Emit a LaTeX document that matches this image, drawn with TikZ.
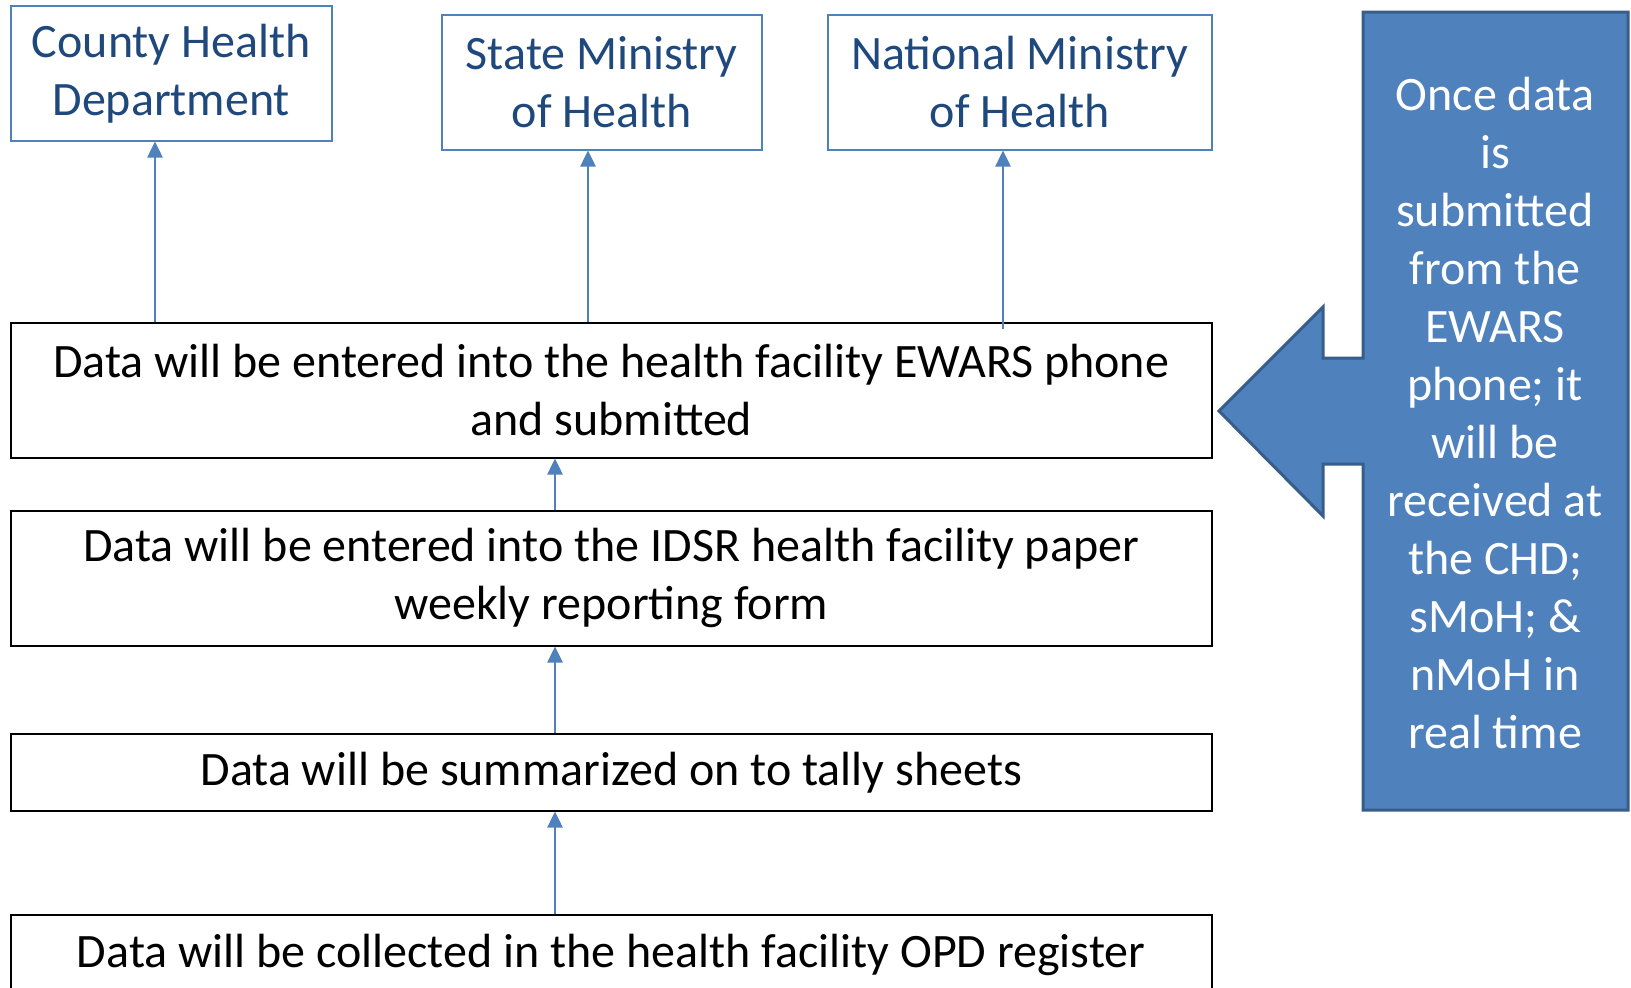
\documentclass[tikz,border=0pt]{standalone}
\usepackage{fontspec}
\setmainfont{Carlito}
\usetikzlibrary{arrows.meta}
\definecolor{accblue}{HTML}{4F81BD}
\definecolor{darkblue}{HTML}{1F497D}
\definecolor{edgeblue}{HTML}{385D8A}
\begin{document}
\begin{tikzpicture}[x=1pt,y=-1pt,
  every node/.style={font=\fontsize{48}{58}\selectfont, inner sep=0pt, align=center},
  flowbox/.style={draw=black, line width=1.5pt, anchor=north west, minimum width=1201pt},
  topbox/.style={draw=accblue, line width=1.5pt, anchor=north west, minimum height=135pt, text=darkblue},
  arr/.style={draw=accblue, line width=2.5pt, -{Triangle[length=16pt,width=15pt]}}]
\clip (0,0) rectangle (1631,988);
\fill[white] (0,0) rectangle (1631,988);
% top boxes
\node[topbox, minimum width=321pt] (chd) at (10,5) {County Health\\Department};
\node[topbox, minimum width=320pt] (smoh) at (441,14) {State Ministry\\of Health};
\node[topbox, minimum width=384pt] (nmoh) at (827,14) {National Ministry\\of Health};
% flow boxes
\node[flowbox, minimum height=135pt] (ewars) at (10,322) {Data will be entered into the health facility EWARS phone\\and submitted};
\node[flowbox, minimum height=135pt] (idsr) at (10,510) {Data will be entered into the IDSR health facility paper\\weekly reporting form};
\node[flowbox, minimum height=77pt] (tally) at (10,733) {Data will be summarized on to tally sheets};
\node[flowbox, minimum height=80pt] (opd) at (10,914) {Data will be collected in the health facility OPD register};
% arrows
\coordinate (c1) at (155,0);
\coordinate (c2) at (588,0);
\coordinate (c3) at (1003,0);
\coordinate (cm) at (555,0);
\draw[arr] (ewars.north -| c1) -- (chd.south -| c1);
\draw[arr] (ewars.north -| c2) -- (smoh.south -| c2);
\draw[arr] ([yshift=-7pt]ewars.north -| c3) -- (nmoh.south -| c3);
\draw[arr] (idsr.north -| cm) -- (ewars.south -| cm);
\draw[arr] (tally.north -| cm) -- (idsr.south -| cm);
\draw[arr] (opd.north -| cm) -- (tally.south -| cm);
% callout
\draw[fill=accblue, draw=edgeblue, line width=3pt, line join=miter]
  (1363,12) -- (1628,12) -- (1628,810) -- (1363,810) -- (1363,464) -- (1323,464)
  -- (1323,516) -- (1219,411) -- (1323,307) -- (1323,358) -- (1363,358) -- cycle;
\node[text=white] (note) at (1495,413) {Once data\\is\\submitted\\from the\\EWARS\\phone; it\\will be\\received at\\the CHD;\\sMoH; \&\\nMoH in\\real time};
\end{tikzpicture}
\end{document}
